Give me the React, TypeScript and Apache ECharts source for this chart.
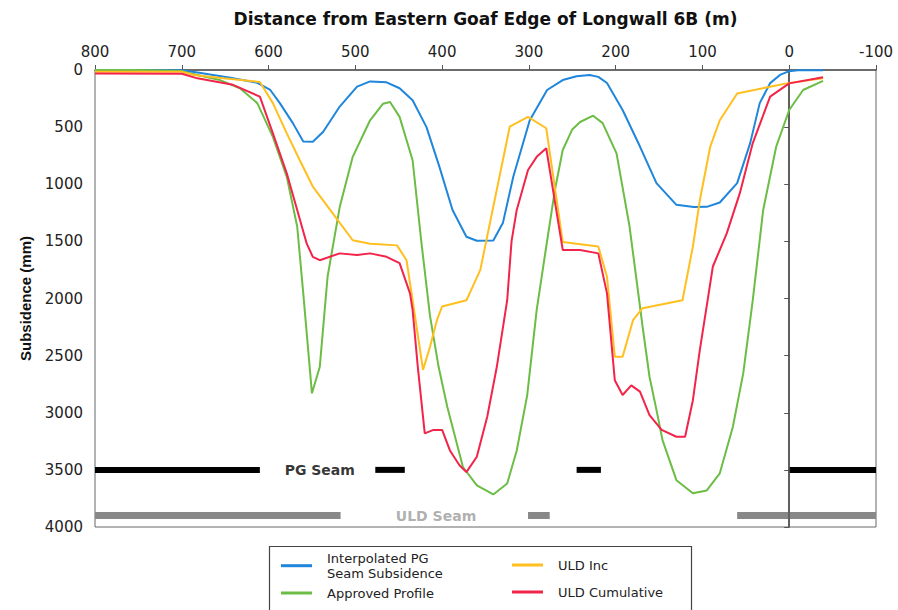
import React, { useEffect, useRef } from "react";
import * as echarts from "echarts";

// Distance (m) vs subsidence (mm) for each curve
const interpolatedPG: number[][] = [
  [800, 0], [750, 0], [700, 3], [680, 25], [644, 68], [613, 112], [598, 175], [587, 290], [572, 465],
  [560, 625], [549, 628], [537, 540], [518, 320], [498, 145], [483, 100], [464, 108], [449, 160],
  [434, 265], [418, 500], [403, 850], [388, 1225], [372, 1460], [360, 1495], [341, 1492], [330, 1340],
  [318, 935], [299, 440], [279, 175], [261, 88], [245, 55], [230, 44], [220, 60], [210, 114], [192, 350],
  [172, 670], [153, 990], [130, 1180], [110, 1200], [95, 1198], [80, 1160], [60, 990], [45, 640],
  [34, 290], [22, 115], [10, 40], [0, 10], [-10, 3], [-39, 3],
];
const approvedProfile: number[][] = [
  [800, 0], [750, 0], [700, 8], [690, 30], [656, 88], [633, 160], [613, 290], [595, 585], [579, 935],
  [567, 1370], [560, 1955], [550, 2830], [541, 2600], [532, 1810], [518, 1200], [503, 760], [483, 440],
  [468, 295], [460, 280], [449, 410], [434, 790], [424, 1500], [414, 2150], [404, 2600], [394, 2950],
  [376, 3475], [360, 3635], [341, 3715], [325, 3620], [314, 3330], [302, 2850], [291, 2100], [280, 1545],
  [270, 1050], [261, 700], [250, 520], [241, 455], [226, 400], [215, 465], [199, 730], [184, 1370],
  [169, 2245], [161, 2685], [153, 2975], [146, 3240], [130, 3590], [111, 3705], [95, 3680], [80, 3530],
  [65, 3125], [53, 2655], [42, 2015], [30, 1225], [15, 670], [0, 350], [-16, 175], [-39, 95],
];
const uldInc: number[][] = [
  [800, 15], [700, 15], [686, 44], [652, 73], [610, 105], [595, 290], [579, 555], [564, 790], [549, 1020],
  [526, 1255], [503, 1490], [483, 1520], [452, 1535], [441, 1665], [434, 2015], [422, 2625], [414, 2425],
  [406, 2190], [400, 2070], [372, 2015], [365, 1900], [356, 1750], [322, 495], [301, 410], [280, 510],
  [261, 1505], [220, 1545], [210, 1810], [201, 2510], [192, 2510], [180, 2190], [169, 2085], [123, 2015],
  [111, 1545], [103, 1140], [91, 670], [80, 440], [60, 205], [3, 117], [-39, 73],
];
const uldCumulative: number[][] = [
  [800, 30], [700, 33], [682, 73], [641, 130], [610, 233], [595, 555], [579, 905], [567, 1225],
  [556, 1520], [549, 1635], [541, 1665], [518, 1605], [498, 1620], [483, 1605], [464, 1635], [449, 1690],
  [437, 1955], [434, 2100], [428, 2600], [420, 3180], [410, 3150], [400, 3150], [391, 3330], [380, 3460],
  [372, 3520], [360, 3385], [348, 3035], [337, 2600], [325, 2015], [320, 1500], [314, 1225], [301, 875],
  [291, 760], [280, 685], [261, 1575], [241, 1575], [220, 1605], [210, 1955], [201, 2715], [192, 2845],
  [182, 2760], [172, 2815], [161, 3020], [147, 3150], [130, 3210], [120, 3210], [111, 2890], [103, 2450],
  [94, 2015], [88, 1720], [72, 1430], [57, 1080], [42, 640], [22, 233], [0, 117], [-39, 63],
];

// Seam extents [from, to] in metres
const pgSeamLevel = 3500;
const pgSeamSegments: number[][] = [[800, 610], [477, 443], [245, 217], [0, -100]];
const uldSeamLevel = 3900;
const uldSeamSegments: number[][] = [[800, 517], [301, 276], [60, -100]];
const seamLabels = [
  { name: "PG Seam", value: [541, 3505], color: "#000" },
  { name: "ULD Seam", value: [407, 3905], color: "#9a9a9a" },
];

const xTicks = { min: -100, max: 800, interval: 100 };
const yTicks = { min: 0, max: 4000, interval: 500 };

const blueName = "Interpolated PG\nSeam Subsidence";
const FONT = "DejaVu Sans";

export default function App() {
  const ref = useRef<HTMLDivElement>(null);
  useEffect(() => {
    if (!ref.current) return;
    const chart = echarts.init(ref.current, undefined, { renderer: "svg" });

    const curve = (name: string, data: number[][], color: string) => ({
      name,
      type: "line",
      data,
      symbol: "none",
      showSymbol: false,
      lineStyle: { color, width: 2 },
      itemStyle: { color },
      z: 5,
    });

    const seamSeries: any[] = [];
    pgSeamSegments.forEach((s, i) =>
      seamSeries.push({
        name: "pg" + i,
        type: "line",
        data: [[s[0], pgSeamLevel], [s[1], pgSeamLevel]],
        symbol: "none",
        lineStyle: { color: "#000", width: 6, cap: "butt" },
        silent: true,
        z: 3,
      })
    );
    uldSeamSegments.forEach((s, i) =>
      seamSeries.push({
        name: "uld" + i,
        type: "line",
        data: [[s[0], uldSeamLevel], [s[1], uldSeamLevel]],
        symbol: "none",
        lineStyle: { color: "#888", width: 7, cap: "butt" },
        silent: true,
        z: 3,
      })
    );
    seamSeries[0].markLine = {
      silent: true,
      symbol: "none",
      label: { show: false },
      lineStyle: { color: "#555", width: 1.5, type: "solid" },
      data: [{ xAxis: 0 }],
    };

    const legendText = {
      fontFamily: FONT,
      fontSize: 13,
      lineHeight: 15.2,
      color: "#222",
      padding: [0, 0, 0, 10],
    };
    const plain = (v: number) => String(v);

    chart.setOption({
      animation: false,
      backgroundColor: "#fff",
      grid: {
        left: 95,
        top: 70,
        width: 781,
        height: 457,
        show: true,
        borderColor: "#666",
        borderWidth: 1,
      },
      xAxis: {
        type: "value",
        position: "top",
        inverse: true,
        ...xTicks,
        name: "Distance from Eastern Goaf Edge of Longwall 6B (m)",
        nameLocation: "middle",
        nameGap: 43,
        nameTextStyle: { fontFamily: FONT, fontWeight: "bold", fontSize: 17, color: "#111" },
        axisLine: { lineStyle: { color: "#555", width: 1.5 } },
        axisTick: { length: 5, lineStyle: { color: "#555" } },
        axisLabel: { margin: 11, fontFamily: FONT, fontSize: 15, color: "#222", formatter: plain },
        splitLine: { show: false },
      },
      yAxis: {
        type: "value",
        inverse: true,
        ...yTicks,
        name: "Subsidence (mm)",
        nameLocation: "middle",
        nameGap: 62,
        nameRotate: 90,
        nameTextStyle: { fontFamily: "Liberation Sans", fontWeight: "bold", fontSize: 15, color: "#111" },
        axisLine: { lineStyle: { color: "#555", width: 1.5 } },
        axisTick: { length: 5, lineStyle: { color: "#555" } },
        axisLabel: { margin: 12, fontFamily: FONT, fontSize: 15, color: "#222", formatter: plain },
        splitLine: { show: false },
      },
      legend: [
        {
          left: 281,
          top: 550.5,
          orient: "vertical",
          padding: 0,
          itemGap: 4.5,
          itemWidth: 31,
          itemHeight: 3,
          icon: "rect",
          data: [blueName, "Approved Profile"],
          textStyle: legendText,
        },
        {
          left: 512,
          top: 557.4,
          orient: "vertical",
          padding: 0,
          itemGap: 11.8,
          itemWidth: 31,
          itemHeight: 3,
          icon: "rect",
          data: ["ULD Inc", "ULD Cumulative"],
          textStyle: legendText,
        },
      ],
      graphic: [
        {
          type: "rect",
          left: 267,
          top: 544,
          shape: { width: 422, height: 64 },
          style: { fill: "none", stroke: "#444", lineWidth: 1.2 },
        },
      ],
      series: [
        ...seamSeries,
        {
          name: "seamLabels",
          type: "scatter",
          symbolSize: 1,
          itemStyle: { color: "rgba(0,0,0,0)" },
          silent: true,
          z: 4,
          data: seamLabels.map((l) => ({
            name: l.name,
            value: l.value,
            label: {
              show: true,
              position: "inside",
              formatter: "{b}",
              fontFamily: FONT,
              fontWeight: "bold",
              fontSize: 14,
              color: l.color,
            },
          })),
        },
        curve(blueName, interpolatedPG, "#1f86dc"),
        curve("Approved Profile", approvedProfile, "#6cbd45"),
        curve("ULD Inc", uldInc, "#ffbf1f"),
        curve("ULD Cumulative", uldCumulative, "#f2244a"),
      ],
    });
    return () => chart.dispose();
  }, []);
  return (
    <div
      ref={ref}
      style={{ position: "fixed", left: 0, top: 0, width: 898, height: 610, background: "#fff" }}
    />
  );
}
